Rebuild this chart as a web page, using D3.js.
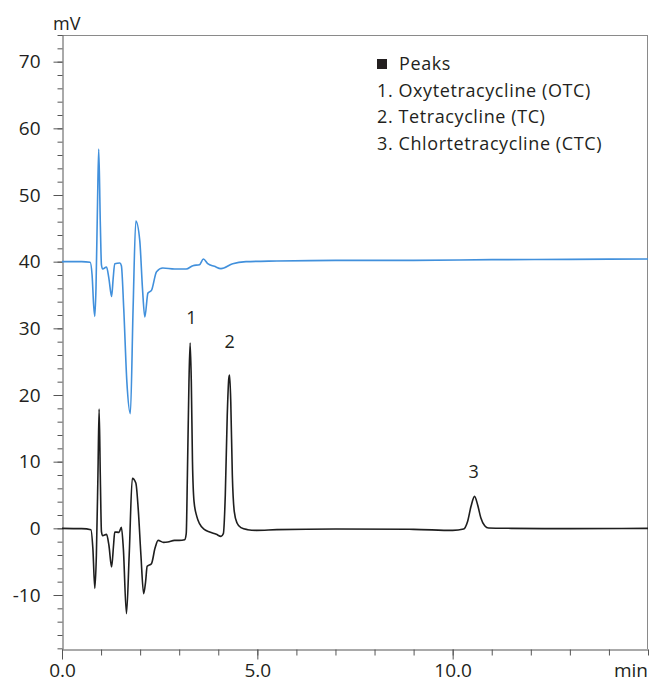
<!DOCTYPE html>
<html>
<head>
<meta charset="utf-8">
<script src="https://cdn.jsdelivr.net/npm/d3@7"></script>
<style>
  body { margin: 0; background: #fff; }
  text { font-family: "Open Sans", "Noto Sans", sans-serif; fill: #231f20; }
</style>
</head>
<body>
<svg id="chart" width="652" height="684"></svg>
<script>
// blank injection (blue trace), time in min / signal in mV
var blankTime = [0, 0.5, 0.72, 0.77, 0.81, 0.84, 0.87, 0.91, 0.94, 0.98, 1.01, 1.04, 1.14, 1.2, 1.27, 1.31, 1.35, 1.48, 1.52, 1.58, 1.66, 1.75, 1.82, 1.89, 1.99, 2.06, 2.12, 2.2, 2.29, 2.42, 2.58, 2.88, 3.18, 3.35, 3.52, 3.62, 3.73, 3.9, 4.07, 4.37, 4.71, 5.5, 7, 9, 11, 13, 15];
var blankSignal = [40, 40, 39.9, 38, 33.5, 31.8, 36, 49, 56.9, 46, 39.5, 38.9, 39.2, 37.5, 34.8, 37.5, 39.7, 39.8, 39.4, 33, 22, 17.2, 33, 46.1, 43.2, 36, 31.7, 35.3, 35.7, 38.5, 39.05, 38.9, 38.9, 39.4, 39.55, 40.4, 39.7, 39.3, 38.95, 39.7, 40.0, 40.1, 40.2, 40.2, 40.3, 40.35, 40.4];

// standard injection (black trace)
var stdTime = [0, 0.5, 0.74, 0.79, 0.84, 0.88, 0.92, 0.95, 0.98, 1.01, 1.04, 1.14, 1.2, 1.27, 1.32, 1.35, 1.46, 1.52, 1.57, 1.65, 1.72, 1.8, 1.89, 1.95, 2.02, 2.09, 2.14, 2.18, 2.29, 2.38, 2.46, 2.6, 2.71, 2.88, 3.0, 3.14,
  3.18, 3.21, 3.25, 3.28, 3.31, 3.34, 3.38, 3.45, 3.52, 3.65, 3.78, 3.95, 4.07, 4.13, 4.18, 4.23, 4.27, 4.29, 4.32, 4.36, 4.41, 4.48, 4.58, 4.75, 4.97,
  5.5, 7, 9, 10, 10.28, 10.38, 10.47, 10.56, 10.64, 10.72, 10.82, 10.92, 11.5, 13, 15];
var stdSignal = [0, -0.05, -0.2, -3, -9.0, -4, 8, 17.9, 8, -0.5, -1.1, -0.9, -2.5, -5.8, -2.5, -0.55, -0.6, 0.15, -3, -12.8, -4, 7.5, 6.8, 3, -4, -9.8, -8, -5.7, -5.3, -3, -1.8, -2.1, -2.05, -1.8, -1.8, -1.7,
  -0.8, 8, 22, 27.8, 22, 10, 4, 1.8, 0.7, -0.2, -0.55, -0.9, -1.2, -0.8, 5, 17, 22.5, 23, 19, 8, 2.5, 0.8, 0.1, -0.2, -0.3,
  -0.2, -0.1, -0.15, -0.3, -0.1, 1, 3.3, 4.8, 3.5, 1.6, 0.4, 0.05, 0, -0.05, 0];

var peakNames = ["1", "2", "3"];
var peakLabelTime = [3.31, 4.29, 10.54];
var peakLabelSignal = [30.6, 27.0, 7.5];

var legendTitle = "Peaks";
var legendItems = ["1. Oxytetracycline (OTC)", "2. Tetracycline (TC)", "3. Chlortetracycline (CTC)"];

var xMajor = [0, 5, 10];
var yMajor = [-10, 0, 10, 20, 30, 40, 50, 60, 70];

var svg = d3.select("#chart");
var plotLeft = 62, plotRight = 648, plotTop = 35, plotBottom = 649;

var x = d3.scaleLinear().domain([0, 15]).range([plotLeft, plotRight]);
var y = d3.scaleLinear().domain([-18.1, 74.0]).range([plotBottom, plotTop]);

// frame on top and right
svg.append("line")
    .attr("x1", plotLeft).attr("x2", plotRight)
    .attr("y1", plotTop + 0.5).attr("y2", plotTop + 0.5)
    .attr("stroke", "#8a8a8a");
svg.append("line")
    .attr("x1", plotRight - 0.5).attr("x2", plotRight - 0.5)
    .attr("y1", plotTop).attr("y2", plotBottom)
    .attr("stroke", "#8a8a8a");

// y axis, minor + major
svg.append("g")
    .attr("transform", "translate(" + (plotLeft + 0.5) + ",0)")
    .call(d3.axisLeft(y).tickValues(d3.range(-18, 75, 2)).tickSize(5).tickFormat(""))
    .call(function (g) { g.select(".domain").remove(); });
var yAxis = svg.append("g")
    .attr("transform", "translate(" + (plotLeft + 0.5) + ",0)")
    .call(d3.axisLeft(y).tickValues(yMajor).tickSize(9).tickPadding(13).tickSizeOuter(0)
        .tickFormat(function (d) { return String(d); }));
yAxis.selectAll("text").style("font-size", "19px");

// x axis
svg.append("g")
    .attr("transform", "translate(0," + (plotBottom + 0.5) + ")")
    .call(d3.axisBottom(x).tickValues(d3.range(0, 16, 1)).tickSize(6).tickFormat(""))
    .call(function (g) { g.select(".domain").remove(); });
var xAxis = svg.append("g")
    .attr("transform", "translate(0," + (plotBottom + 0.5) + ")")
    .call(d3.axisBottom(x).tickValues(xMajor).tickSize(10).tickPadding(4).tickSizeOuter(0).tickFormat(d3.format(".1f")));
xAxis.selectAll("text").style("font-size", "19px");

svg.selectAll(".tick line").attr("stroke", "#555");
svg.selectAll(".domain").attr("stroke", "#555");

svg.append("text")
    .attr("x", 53).attr("y", 30)
    .style("font-size", "18px")
    .text("mV");
svg.append("text")
    .attr("x", plotRight).attr("y", 677)
    .attr("text-anchor", "end")
    .style("font-size", "19px")
    .text("min");

// traces
var line = d3.line()
    .x(function (d) { return x(d[0]); })
    .y(function (d) { return y(d[1]); })
    .curve(d3.curveMonotoneX);

svg.append("path")
    .datum(d3.zip(blankTime, blankSignal))
    .attr("d", line)
    .attr("fill", "none")
    .attr("stroke", "#4190dc")
    .attr("stroke-width", 1.6)
    .attr("stroke-linejoin", "round");

svg.append("path")
    .datum(d3.zip(stdTime, stdSignal))
    .attr("d", line)
    .attr("fill", "none")
    .attr("stroke", "#1e1e1e")
    .attr("stroke-width", 1.6)
    .attr("stroke-linejoin", "round");

// peak numbers
svg.selectAll(".peak")
    .data(peakNames)
    .enter().append("text")
    .attr("class", "peak")
    .attr("x", function (d, i) { return x(peakLabelTime[i]); })
    .attr("y", function (d, i) { return y(peakLabelSignal[i]); })
    .attr("text-anchor", "middle")
    .style("font-size", "18px")
    .text(function (d) { return d; });

// legend
svg.append("rect")
    .attr("x", 377).attr("y", 59)
    .attr("width", 10).attr("height", 10)
    .attr("fill", "#231f20");
svg.append("text")
    .attr("x", 399).attr("y", 70)
    .style("font-size", "18px")
    .style("letter-spacing", "0.6px")
    .text(legendTitle);
svg.selectAll(".legend")
    .data(legendItems)
    .enter().append("text")
    .attr("class", "legend")
    .attr("x", 377)
    .attr("y", function (d, i) { return 96.5 + i * 26.7; })
    .style("font-size", "18px")
    .style("letter-spacing", "0.6px")
    .text(function (d) { return d; });
</script>
</body>
</html>
